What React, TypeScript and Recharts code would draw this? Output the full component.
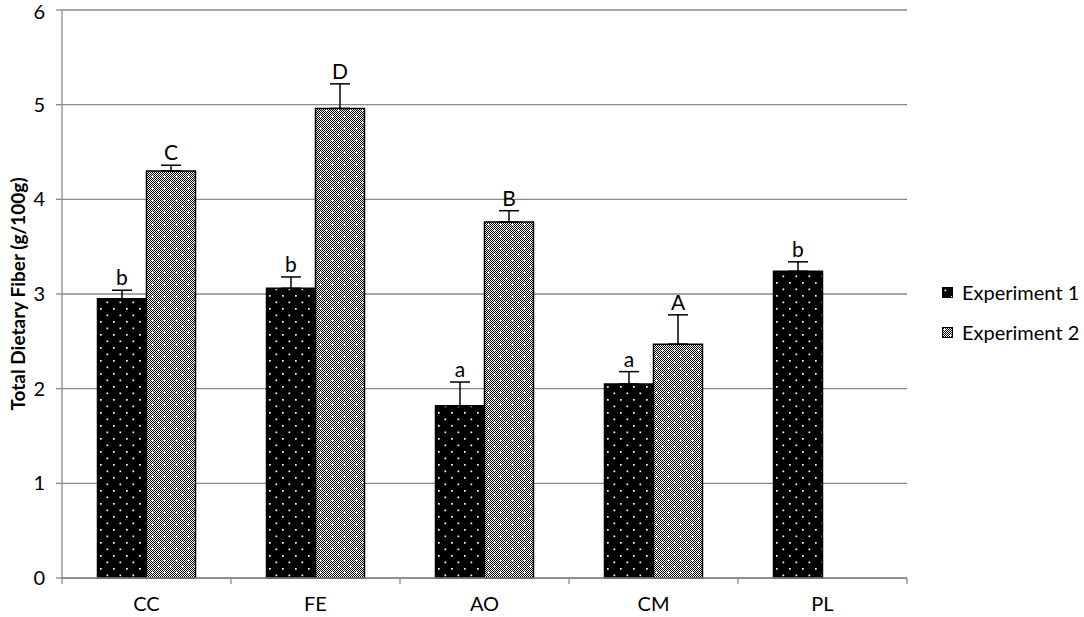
import React from 'react';
import { BarChart, Bar, XAxis, YAxis, CartesianGrid, ErrorBar, LabelList } from 'recharts';

const categories = ['CC', 'FE', 'AO', 'CM', 'PL'];
const exp1Values = [2.95, 3.06, 1.82, 2.05, 3.24];
const exp1Errors = [0.09, 0.12, 0.25, 0.13, 0.1];
const exp1Letters = ['b', 'b', 'a', 'a', 'b'];
const exp2Values: (number | null)[] = [4.3, 4.96, 3.76, 2.47, null];
const exp2Errors: (number | null)[] = [0.06, 0.26, 0.12, 0.31, null];
const exp2Letters = ['C', 'D', 'B', 'A', ''];
const seriesNames = ['Experiment 1', 'Experiment 2'];
const yTicks = [0, 1, 2, 3, 4, 5, 6];
const yLabel = 'Total Dietary Fiber (g/100g)';

const data = categories.map((c, i) => ({
  cat: c,
  e1: exp1Values[i],
  e1err: [0, exp1Errors[i]],
  e1lab: exp1Letters[i],
  e2: exp2Values[i],
  e2err: exp2Values[i] == null ? null : [0, exp2Errors[i]],
  e2lab: exp2Letters[i],
}));

const FONT = 'Lato, "Open Sans", sans-serif';
const GRID = '#898989';

const makeLabel = (vals: (number | null)[], errs: (number | null)[]) => (props: any) => {
  const { value, index } = props;
  const vb = props.viewBox || {};
  const x = props.x ?? vb.x;
  const y = props.y ?? vb.y;
  const width = props.width ?? vb.width;
  const height = props.height ?? vb.height;
  const v = vals[index];
  const e = errs[index];
  if (!value || v == null || e == null) return null;
  const ppu = Math.abs(height) / v;
  const top = y - e * ppu;
  return (
    <text x={x + width / 2} y={top - 5} textAnchor="middle" fontSize={21} fontFamily={FONT} fill="#000">
      {value}
    </text>
  );
};

const XTick = (props: any) => {
  const { x, y, payload, index } = props;
  const half = payload && payload.offset ? payload.offset : 84.5;
  return (
    <g>
      <line x1={x - half} x2={x - half} y1={y} y2={y + 6} stroke={GRID} strokeWidth={1.3} />
      {index === categories.length - 1 && (
        <line x1={x + half} x2={x + half} y1={y} y2={y + 6} stroke={GRID} strokeWidth={1.3} />
      )}
      <text x={x} y={y + 33} textAnchor="middle" fontSize={20} fontFamily={FONT} fill="#000">
        {payload.value}
      </text>
    </g>
  );
};

const YLabel = (props: any) => {
  const vb = props.viewBox || {};
  const cy = vb.y + vb.height / 2;
  return (
    <text
      x={17}
      y={cy}
      transform={`rotate(-90, 17, ${cy})`}
      textAnchor="middle"
      dominantBaseline="central"
      fontSize={19}
      fontWeight="bold"
      fontFamily={FONT}
      fill="#000"
    >
      {yLabel}
    </text>
  );
};

const Patterns = () => (
  <svg width={0} height={0} style={{ position: 'absolute' }}>
    <defs>
      <pattern id="p1" width={13} height={13} patternUnits="userSpaceOnUse">
        <rect x={0} y={0} width={13} height={13} fill="#000" />
        <rect x={2.5} y={2.5} width={1.7} height={1.7} fill="#fff" />
        <rect x={9} y={9} width={1.7} height={1.7} fill="#fff" />
      </pattern>
      <pattern id="chk" width={2} height={2} patternUnits="userSpaceOnUse">
        <rect x={0} y={0} width={2} height={2} fill="#fff" />
        <rect x={0} y={0} width={1} height={1} fill="#000" />
        <rect x={1} y={1} width={1} height={1} fill="#000" />
      </pattern>
      <pattern id="p2" width={12} height={12} patternUnits="userSpaceOnUse">
        <rect x={0} y={0} width={12} height={12} fill="url(#chk)" />
        <rect x={2} y={2} width={1.2} height={1.2} fill="#fff" />
        <rect x={8} y={8} width={1.2} height={1.2} fill="#fff" />
      </pattern>
    </defs>
  </svg>
);

export default function App() {
  const fills = ['url(#p1)', 'url(#p2)'];
  return (
    <div style={{ position: 'absolute', left: 0, top: 0, width: 1084, height: 617, background: '#fff' }}>
      <Patterns />
      <BarChart
        width={1084}
        height={617}
        data={data}
        margin={{ top: 10, right: 177, left: 0, bottom: 0 }}
        barCategoryGap="21%"
        barGap={0}
      >
        <CartesianGrid vertical={false} stroke={GRID} strokeWidth={1.3} />
        <XAxis
          dataKey="cat"
          height={39}
          tickLine={false}
          tickSize={0}
          tickMargin={0}
          axisLine={{ stroke: GRID, strokeWidth: 1.3 }}
          tick={<XTick />}
          interval={0}
        />
        <YAxis
          domain={[0, 6]}
          ticks={yTicks}
          width={62}
          tickSize={6}
          tickMargin={11}
          axisLine={{ stroke: GRID, strokeWidth: 1.3 }}
          tickLine={{ stroke: GRID, strokeWidth: 1.3 }}
          tick={{ fontSize: 20, fill: '#000', fontFamily: FONT }}
          label={<YLabel />}
        />
        <Bar dataKey="e1" name={seriesNames[0]} fill={fills[0]} stroke="#000" strokeWidth={1.5} isAnimationActive={false}>
          <ErrorBar dataKey="e1err" width={10} stroke="#000" strokeWidth={1.5} direction="y" />
          <LabelList dataKey="e1lab" content={makeLabel(exp1Values, exp1Errors)} />
        </Bar>
        <Bar dataKey="e2" name={seriesNames[1]} fill={fills[1]} stroke="#000" strokeWidth={1.5} isAnimationActive={false}>
          <ErrorBar dataKey="e2err" width={10} stroke="#000" strokeWidth={1.5} direction="y" />
          <LabelList dataKey="e2lab" content={makeLabel(exp2Values, exp2Errors)} />
        </Bar>
      </BarChart>
      <div style={{ position: 'absolute', left: 942, top: 280, fontFamily: FONT, fontSize: 20, color: '#000' }}>
        {seriesNames.map((n, i) => (
          <div key={n} style={{ display: 'flex', alignItems: 'center', height: 24, marginBottom: i === 0 ? 16 : 0 }}>
            <svg width={11} height={11} style={{ display: 'block' }}>
              <rect x={0.5} y={0.5} width={10} height={10} fill={fills[i]} stroke="#000" strokeWidth={1} />
            </svg>
            <span style={{ marginLeft: 9, whiteSpace: 'nowrap' }}>{n}</span>
          </div>
        ))}
      </div>
    </div>
  );
}
